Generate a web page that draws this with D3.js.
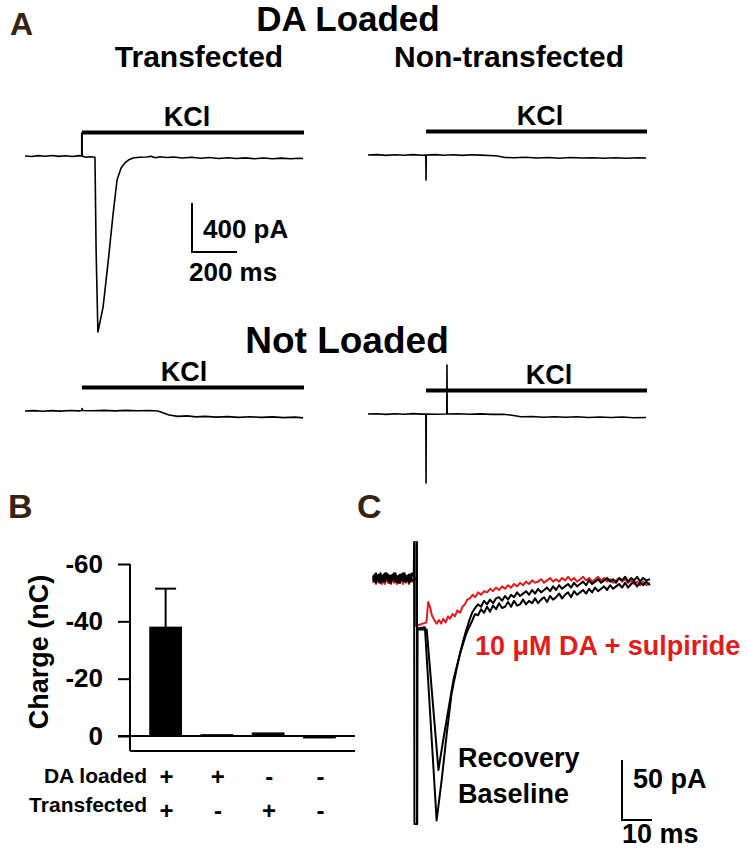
<!DOCTYPE html>
<html>
<head>
<meta charset="utf-8">
<script src="https://cdn.jsdelivr.net/npm/d3@7"></script>
<style>
  body { margin: 0; background: #fff; }
  svg text { font-family: "Liberation Sans", Arial, sans-serif; font-weight: bold; }
</style>
</head>
<body>
<div id="fig"></div>
<script>
// ---- data: panel A traces (time ms, current pA) ----
var loadedTransfected = [[0,0],[30,-4],[60,3],[90,-2],[120,4],[150,-3],[180,2],[210,-4],[240,3],[253,0],[270,-10],[290,-6],[311,-10],
  [316,-770],[324,-1437],[347,-1233],[369,-873],[391,-482],[409,-196],[427,-98],[444,-57],[462,-30],[480,-16],[510,-10],[542,-8],
  [560,-2],[580,-14],[600,-6],[630,-12],[660,-8],[700,-16],[740,-10],[780,-18],[820,-12],[860,-20],[900,-14],[940,-20],[980,-15],
  [1020,-22],[1060,-16],[1100,-22],[1140,-17],[1180,-23],[1220,-18],[1236,-20]];
var loadedNonTransfected = [[0,0],[40,3],[80,-3],[120,2],[160,-2],[200,3],[240,-2],[257,0],[258,-205],[259,0],[300,3],[340,-2],
  [380,2],[420,-3],[460,2],[500,-1],[540,-4],[575,-8],[610,-20],[650,-22],[700,-18],[750,-24],[800,-20],[850,-26],[900,-21],
  [950,-25],[1000,-22],[1050,-27],[1100,-22],[1150,-26],[1200,-23],[1236,-25]];
var notLoadedTransfected = [[0,0],[40,3],[80,-2],[120,3],[160,-1],[200,4],[240,1],[252,4],[254,20],[256,4],[300,2],[350,5],
  [400,1],[450,5],[500,2],[550,4],[590,0],[610,-12],[640,-32],[680,-44],[720,-40],[760,-48],[800,-44],[850,-50],[900,-46],
  [950,-52],[1000,-47],[1050,-52],[1100,-48],[1150,-54],[1200,-50],[1236,-56]];
var notLoadedNonTransfected = [[0,0],[40,2],[80,-3],[120,2],[160,-2],[200,3],[240,-1],[257,0],[258,-563],[259,0],[300,-2],
  [350,0],[351,400],[352,0],[400,2],[450,-2],[500,1],[550,-3],[600,-2],[640,-10],[680,-22],[730,-20],[780,-26],[830,-22],
  [880,-27],[930,-23],[980,-28],[1030,-24],[1080,-29],[1130,-25],[1180,-30],[1236,-28]];
var kclOnset = [253, 258, 253, 258];
var kclOffset = 1240;

// ---- data: panel B ----
var groups = ["g1", "g2", "g3", "g4"];
var daLoaded = ["+", "+", "-", "-"];
var transfected = ["+", "-", "+", "-"];
var charge = [-37.8, -0.3, -0.9, 0.5];
var chargeErr = [13.6, 0, 0, 0];
var chargeTicks = [0, -20, -40, -60];

// ---- data: panel C traces (time ms, current pA) ----
var cBaseline = [[0,2],[0.5,-3],[1,4],[1.5,-2],[2,3],[2.5,-4],[3,1],[3.5,-3],[4,4],[4.5,-1],[5,3],[5.5,-4],[6,2],[6.5,-2],
  [7,4],[7.5,-3],[8,1],[8.5,-4],[9,3],[9.5,-1],[10,4],[10.5,-3],[11,2],[11.5,-2],[12,3],[12.5,-3],[13,4],[13.6,1],
  [13.7,30],[13.8,-205],[14.7,-205],[14.8,-42],[17.3,-41],[21.2,-202],[22.9,-168],[24.6,-129],[26.2,-96],
  [28,-74],[29,-63],[30,-55],[31,-47],[32,-41],[33,-36],[34,-30],[35,-31],[36,-26],[37,-29],[38,-24],[39,-28],[40,-23],
  [41,-26],[42,-21],[43,-25],[44,-24],[45,-20],[46,-24],[47,-19],[48,-23],[49,-22],[50,-18],[51,-22],[52,-19],[53,-21],
  [54,-17],[55,-21],[56,-18],[57,-16],[58,-20],[59,-15],[60,-18],[61,-16],[62,-13],[63,-17],[64,-14],[65,-12],[66,-16],
  [67,-11],[68,-14],[69,-12],[70,-10],[71,-13],[72,-9],[73,-12],[74,-8],[75,-11],[76,-9],[77,-7],[78,-10],[79,-6],
  [80,-9],[81,-7],[82,-5],[83,-8],[84,-4],[85,-8],[86,-5],[87,-3],[88,-7],[89,-4],[90,-6],[91,-3],[92.3,-6]];
var cRecovery = [[0,-2],[0.5,3],[1,-4],[1.5,2],[2,-3],[2.5,4],[3,-2],[3.5,3],[4,-3],[4.5,4],[5,-2],[5.5,2],[6,-4],[6.5,3],
  [7,-1],[7.5,4],[8,-3],[8.5,2],[9,-4],[9.5,3],[10,-2],[10.5,4],[11,-3],[11.5,2],[12,-4],[12.5,3],[13,-2],[14.6,0],
  [14.65,30],[14.7,-205],[14.75,-43],[17.9,-43],[21.8,-160],[23.4,-135],[25.1,-110],[26.8,-85],
  [29,-63],[30,-53],[31,-44],[32,-36],[33,-29],[34,-25],[35,-22],[36,-24],[37,-19],[38,-22],[39,-18],[40,-21],[41,-17],
  [42,-16],[43,-19],[44,-15],[45,-18],[46,-14],[47,-16],[48,-12],[49,-15],[50,-13],[51,-11],[52,-14],[53,-10],[54,-13],
  [55,-9],[56,-12],[57,-10],[58,-8],[59,-11],[60,-7],[61,-10],[62,-6],[63,-9],[64,-7],[65,-5],[66,-8],[67,-4],[68,-7],
  [69,-5],[70,-3],[71,-6],[72,-2],[73,-5],[74,-3],[75,-1],[76,-4],[77,-2],[78,0],[79,-3],[80,-1],[81,-4],[82,0],
  [83,-2],[84,1],[85,-3],[86,0],[87,-2],[88,1],[89,-3],[90,0],[91,-2],[92.3,-1]];
var cSulpiride = [[0,-4],[0.5,1],[1,-5],[1.5,0],[2,-4],[2.5,1],[3,-5],[3.5,-1],[4,-5],[4.5,1],[5,-4],[5.5,0],[6,-5],[6.5,1],
  [7,-4],[7.5,-1],[8,-5],[8.5,1],[9,-4],[9.5,0],[10,-5],[10.5,1],[11,-4],[11.5,0],[12,-5],[12.5,1],[13,-3],[14.2,-2],
  [14.25,30],[14.3,-40],[17.8,-37],[18.4,-20],[19,-24],[19.6,-31],[20.4,-35],[21.2,-38],[22,-35],[22.7,-38],[23.4,-34],
  [24.2,-37],[25,-32],[25.7,-34],[26.5,-30],[27.3,-32],[28.1,-27],[29,-29],[29.8,-24],[30.6,-22],[31.4,-18],[32.3,-17],
  [33.2,-14],[34.1,-16],[35,-12],[36,-14],[37,-11],[38,-12],[39,-9],[40,-11],[41,-8],[42,-10],[43,-7],[44,-9],[45,-6],
  [46,-8],[47,-5],[48,-7],[49,-4],[50,-6],[51,-3],[52,-5],[53,-2],[54,-4],[55,-3],[56,-1],[57,-4],[58,-2],[59,0],[60,-3],
  [61,-1],[62,-3],[63,0],[64,-2],[65,1],[66,-2],[67,0],[68,-3],[69,-1],[70,1],[71,-2],[72,0],[73,-3],[74,-1],[75,1],
  [76,-2],[77,0],[78,-3],[79,-1],[80,-4],[81,-2],[82,0],[83,-3],[84,-1],[85,-4],[86,-2],[87,-5],[88,-3],[89,-6],[90,-3],
  [91,-6],[92.3,-4]];

var width = 748, height = 853;
var letterColor = "#33230f";
var red = "#e41b1b";

var svg = d3.select("#fig").append("svg")
  .attr("width", width)
  .attr("height", height);

function label(x, y, str, size, anchor, color) {
  return svg.append("text")
    .attr("x", x).attr("y", y)
    .attr("font-size", size)
    .attr("text-anchor", anchor || "start")
    .attr("fill", color || "#000")
    .text(str);
}

// ================= Panel A =================
label(10, 35, "A", 32, "start", letterColor);
label(348, 31, "DA Loaded", 35, "middle");
label(347, 353, "Not Loaded", 37, "middle");
label(199, 67, "Transfected", 30, "middle");
label(509, 67, "Non-transfected", 30, "middle");

// small panels: left edge, baseline and KCl label spot of each trace
var aPanels = [
  { data: loadedTransfected, x0: 25, base: 156, leg: true, kclX: 187 },
  { data: loadedNonTransfected, x0: 368, base: 155, leg: false, kclX: 540 },
  { data: notLoadedTransfected, x0: 25, base: 411, leg: false, kclX: 184 },
  { data: notLoadedNonTransfected, x0: 368, base: 414, leg: false, kclX: 549 }
];
var msPx = 0.225, pAPx = 0.1225;

aPanels.forEach(function(p, i) {
  var x = d3.scaleLinear().domain([0, 1240]).range([p.x0, p.x0 + 1240 * msPx]);
  var y = d3.scaleLinear().domain([0, -1000]).range([p.base, p.base + 1000 * pAPx]);
  p.x = x; p.y = y;

  var line = d3.line().x(d => x(d[0])).y(d => y(d[1]));
  svg.append("path")
    .datum(p.data)
    .attr("d", line)
    .attr("fill", "none")
    .attr("stroke", "#000")
    .attr("stroke-width", 1.6)
    .attr("stroke-linejoin", "round");

  // KCl bar
  var barY = p.base - 23.5;
  svg.append("line")
    .attr("x1", x(kclOnset[i])).attr("x2", x(kclOffset))
    .attr("y1", barY).attr("y2", barY)
    .attr("stroke", "#000").attr("stroke-width", 4);
  if (p.leg) {
    svg.append("line")
      .attr("x1", x(kclOnset[i])).attr("x2", x(kclOnset[i]))
      .attr("y1", barY).attr("y2", p.base)
      .attr("stroke", "#000").attr("stroke-width", 2);
  }
  label(p.kclX, barY - 7, "KCl", 27, "middle");
});

// scale bar A: 400 pA, 200 ms
(function() {
  var sx = aPanels[0].x, sy = aPanels[0].y;
  var ox = 192, oy = 252;
  var w = sx(200) - sx(0), h = sy(-400) - sy(0);
  svg.append("path")
    .attr("d", "M" + ox + "," + (oy - h) + "V" + oy + "H" + (ox + w))
    .attr("fill", "none").attr("stroke", "#000").attr("stroke-width", 2);
  label(203, 238, "400 pA", 26);
  label(189, 281, "200 ms", 26);
})();

// ================= Panel B =================
label(8, 518, "B", 34, "start", letterColor);

var bLeft = 130, bRight = 355, bBottom = 751;
var xB = d3.scaleBand().domain(groups).range([140, 345]).paddingInner(0.36).paddingOuter(0.18);
var yB = d3.scaleLinear().domain([0, -60]).range([736, 564]);

svg.append("g")
  .attr("transform", "translate(" + bLeft + ",0)")
  .call(d3.axisLeft(yB).tickValues(chargeTicks).tickSize(12).tickPadding(15).tickFormat(d => String(d)))
  .call(g => g.select(".domain").remove())
  .call(g => g.selectAll(".tick line").attr("stroke-width", 2))
  .call(g => g.selectAll(".tick text").attr("font-size", 26)
    .attr("font-family", "Liberation Sans, Arial, sans-serif").attr("font-weight", "bold"));

// vertical axis line down to the bottom frame line
svg.append("line")
  .attr("x1", bLeft).attr("x2", bLeft)
  .attr("y1", yB(-60)).attr("y2", bBottom)
  .attr("stroke", "#000").attr("stroke-width", 2);
svg.append("line")
  .attr("x1", bLeft).attr("x2", bRight)
  .attr("y1", bBottom).attr("y2", bBottom)
  .attr("stroke", "#000").attr("stroke-width", 2);

// bars
svg.selectAll("rect.bar")
  .data(groups)
  .enter().append("rect")
  .attr("class", "bar")
  .attr("x", d => xB(d))
  .attr("width", xB.bandwidth())
  .attr("y", (d, i) => Math.min(yB(charge[i]), yB(0)) - 1)
  .attr("height", (d, i) => Math.abs(yB(charge[i]) - yB(0)) + 2)
  .attr("fill", "#000");

// error bar on the first group
groups.forEach(function(g, i) {
  if (!chargeErr[i]) return;
  var cx = xB(g) + xB.bandwidth() / 2;
  var top = yB(charge[i] - chargeErr[i]);
  svg.append("line")
    .attr("x1", cx).attr("x2", cx)
    .attr("y1", yB(charge[i])).attr("y2", top)
    .attr("stroke", "#000").attr("stroke-width", 2);
  svg.append("line")
    .attr("x1", cx - 10.5).attr("x2", cx + 10.5)
    .attr("y1", top).attr("y2", top)
    .attr("stroke", "#000").attr("stroke-width", 2);
});

// zero line
svg.append("line")
  .attr("x1", bLeft - 12).attr("x2", bRight)
  .attr("y1", yB(0)).attr("y2", yB(0))
  .attr("stroke", "#000").attr("stroke-width", 2);

// y label
svg.append("text")
  .attr("transform", "translate(48,652) rotate(-90)")
  .attr("text-anchor", "middle")
  .attr("font-size", 27)
  .text("Charge (nC)");

// condition rows
label(147, 783, "DA loaded", 21, "end");
label(147, 812, "Transfected", 21, "end");
svg.selectAll("text.da")
  .data(groups)
  .enter().append("text")
  .attr("class", "da")
  .attr("x", d => xB(d) + xB.bandwidth() / 2 + 1)
  .attr("y", 785)
  .attr("text-anchor", "middle")
  .attr("font-size", 24)
  .text((d, i) => daLoaded[i]);
svg.selectAll("text.tf")
  .data(groups)
  .enter().append("text")
  .attr("class", "tf")
  .attr("x", d => xB(d) + xB.bandwidth() / 2 + 1)
  .attr("y", 819)
  .attr("text-anchor", "middle")
  .attr("font-size", 24)
  .text((d, i) => transfected[i]);

// ================= Panel C =================
label(357, 518, "C", 34, "start", letterColor);

var xC = d3.scaleLinear().domain([0, 92.3]).range([373, 650]);
var yC = d3.scaleLinear().domain([0, -50]).range([578, 638]);
var lineC = d3.line().x(d => xC(d[0])).y(d => yC(d[1]));

svg.append("path").datum(cSulpiride).attr("d", lineC)
  .attr("fill", "none").attr("stroke", red).attr("stroke-width", 2).attr("stroke-linejoin", "round");
[cRecovery, cBaseline].forEach(function(tr) {
  svg.append("path").datum(tr).attr("d", lineC)
    .attr("fill", "none").attr("stroke", "#000").attr("stroke-width", 2).attr("stroke-linejoin", "round");
});

label(475, 655, "10 \u03BCM DA + sulpiride", 27, "start", red);
label(458, 767, "Recovery", 27);
label(458, 803, "Baseline", 27);

// scale bar C: 50 pA, 10 ms
(function() {
  var ox = 622, oy = 820;
  var w = xC(10) - xC(0), h = yC(-50) - yC(0);
  svg.append("path")
    .attr("d", "M" + ox + "," + (oy - h) + "V" + oy + "H" + (ox + w))
    .attr("fill", "none").attr("stroke", "#000").attr("stroke-width", 2);
  label(633, 788, "50 pA", 27);
  label(622, 843, "10 ms", 27);
})();
</script>
</body>
</html>
